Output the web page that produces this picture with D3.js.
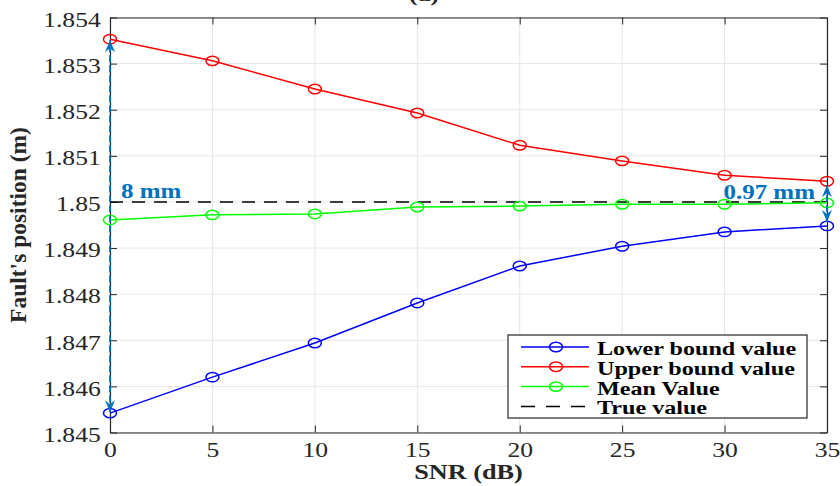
<!DOCTYPE html>
<html><head><meta charset="utf-8">
<script src="https://cdn.jsdelivr.net/npm/d3@7"></script>
<style>body{margin:0;background:#fff}svg{display:block}</style>
</head><body>
<script>
const snr = [0, 5, 10, 15, 20, 25, 30, 35];
const lowerBound = [1.84542, 1.84620, 1.84694, 1.84781, 1.84861, 1.84904, 1.84935, 1.84948];
const upperBound = [1.85353, 1.85306, 1.85245, 1.85193, 1.85123, 1.85089, 1.85058, 1.85045];
const meanValue = [1.84961, 1.84972, 1.84974, 1.84989, 1.84991, 1.84995, 1.84995, 1.84998];
const trueValue = 1.85;
const xTicks = [0, 5, 10, 15, 20, 25, 30, 35];
const yTicks = [1.845, 1.846, 1.847, 1.848, 1.849, 1.85, 1.851, 1.852, 1.853, 1.854];
const seriesNames = ["Lower bound value", "Upper bound value", "Mean Value", "True value"];
const annotations = ["8 mm", "0.97 mm"];

const W = 840, H = 486;
const m = {l: 110, r: 13, t: 17.5, b: 53.5};
const svg = d3.select("body").append("svg").attr("width", W).attr("height", H);
const x = d3.scaleLinear().domain([0, 35]).range([m.l, W - m.r]);
const y = d3.scaleLinear().domain([1.845, 1.854]).range([H - m.b, m.t]);
const serif = "Liberation Serif, Times New Roman, serif";
const axisCol = "#262626";
const annCol = "#0072BD";
const SX = 1.22;

function stext(parent, tx, ty, str, size, opts = {}) {
  const t = parent.append("text")
    .attr("transform", `translate(${tx},${ty}) scale(${opts.sx || SX},1)`)
    .style("font-family", serif).attr("font-size", size)
    .attr("font-weight", opts.bold ? "bold" : "normal")
    .attr("fill", opts.fill || axisCol)
    .attr("text-anchor", opts.anchor || "start")
    .text(str);
  return t;
}

// grid
const g = svg.append("g");
g.selectAll(".gx").data(xTicks).join("line")
  .attr("x1", d => x(d)).attr("x2", d => x(d)).attr("y1", m.t).attr("y2", H - m.b)
  .attr("stroke", "#e6e6e6").attr("stroke-width", 1);
g.selectAll(".gy").data(yTicks).join("line")
  .attr("y1", d => y(d)).attr("y2", d => y(d)).attr("x1", m.l).attr("x2", W - m.r)
  .attr("stroke", "#e6e6e6").attr("stroke-width", 1);

// axes
const fmtY = d => d3.format(".3f")(d).replace(/0+$/, "").replace(/\.$/, "");
function styleAxis(sel) {
  sel.selectAll("path").attr("stroke", axisCol).attr("stroke-width", 1.2);
  sel.selectAll("line").attr("stroke", axisCol);
  sel.selectAll("text").style("font-family", serif).attr("font-size", 21).attr("fill", axisCol);
}
svg.append("g").attr("transform", `translate(0,${H - m.b})`)
  .call(d3.axisBottom(x).tickValues(xTicks).tickSizeInner(-7).tickSizeOuter(0))
  .call(styleAxis)
  .call(a => a.selectAll("text").attr("y", 24.3).attr("dy", 0).attr("transform", `scale(${SX},1)`));
svg.append("g").attr("transform", `translate(0,${m.t})`)
  .call(d3.axisTop(x).tickValues(xTicks).tickSizeInner(-7).tickSizeOuter(0).tickFormat(""))
  .call(styleAxis);
svg.append("g").attr("transform", `translate(${m.l},0)`)
  .call(d3.axisLeft(y).tickValues(yTicks).tickSizeInner(-7).tickSizeOuter(0).tickPadding(7.6).tickFormat(fmtY))
  .call(styleAxis)
  .call(a => a.selectAll("text").attr("dy", "0.42em").attr("transform", `scale(${SX},1)`));
svg.append("g").attr("transform", `translate(${W - m.r},0)`)
  .call(d3.axisRight(y).tickValues(yTicks).tickSizeInner(-7).tickSizeOuter(0).tickFormat(""))
  .call(styleAxis);

// axis labels & title
stext(svg, (m.l + W - m.r) / 2, 479, "SNR (dB)", 21, {bold: true, anchor: "middle", sx: 1.25});
svg.append("text").attr("transform", `translate(26,${(m.t + H - m.b) / 2}) rotate(-90)`)
  .attr("text-anchor", "middle").style("font-family", serif).attr("font-weight", "bold")
  .attr("font-size", 23.5).attr("fill", axisCol).text("Fault's position (m)");
stext(svg, 424, 0.5, "(a)", 21, {bold: true, anchor: "middle", sx: 1.25});

// true value
svg.append("line").attr("x1", x(0)).attr("x2", x(35)).attr("y1", y(trueValue)).attr("y2", y(trueValue))
  .attr("stroke", "#000").attr("stroke-width", 1.5).attr("stroke-dasharray", "13,9");

// series
const series = [
  {vals: lowerBound, col: "#0000ff"},
  {vals: upperBound, col: "#ff0000"},
  {vals: meanValue, col: "#00ff00"}
];
const line = d3.line().x((d, i) => x(snr[i])).y(d => y(d));
series.forEach(s => {
  svg.append("path").datum(s.vals).attr("d", line).attr("fill", "none")
    .attr("stroke", s.col).attr("stroke-width", 1.5);
  svg.append("g").selectAll("ellipse").data(s.vals).join("ellipse")
    .attr("cx", (d, i) => x(snr[i])).attr("cy", d => y(d)).attr("rx", 6.5).attr("ry", 4.7)
    .attr("fill", "none").attr("stroke", s.col).attr("stroke-width", 1.5);
});

// annotation arrows
const defs = svg.append("defs");
defs.append("marker").attr("id", "ah").attr("viewBox", "0 0 12 10").attr("refX", 12).attr("refY", 5)
  .attr("markerWidth", 12).attr("markerHeight", 10).attr("markerUnits", "userSpaceOnUse")
  .attr("orient", "auto-start-reverse")
  .append("path").attr("d", "M0,0 L12,5 L0,10 L4,5 Z").attr("fill", annCol);
function dArrow(xv, y1v, y2v, inset) {
  svg.append("line").attr("x1", x(xv)).attr("x2", x(xv))
    .attr("y1", y(y1v) - inset).attr("y2", y(y2v) + inset)
    .attr("stroke", annCol).attr("stroke-width", 1.8).attr("stroke-dasharray", "7,3")
    .attr("marker-start", "url(#ah)").attr("marker-end", "url(#ah)");
}
dArrow(0, lowerBound[0], upperBound[0], 1);
dArrow(35, lowerBound[7], upperBound[7], 4);
stext(svg, x(0) + 11, 197.5, annotations[0], 20, {bold: true, fill: annCol, sx: 1.25});
stext(svg, x(35) - 12, 199, annotations[1], 20, {bold: true, fill: annCol, anchor: "end", sx: 1.25});

// legend
const lg = svg.append("g").attr("transform", "translate(508,335)");
lg.append("rect").attr("width", 299).attr("height", 83).attr("fill", "#fff")
  .attr("stroke", axisCol).attr("stroke-width", 1.2);
const legCols = ["#0000ff", "#ff0000", "#00ff00", "#000"];
seriesNames.forEach((n, i) => {
  const yy = 12 + i * 19.8;
  const ln = lg.append("line").attr("x1", 13).attr("x2", 81).attr("y1", yy).attr("y2", yy)
    .attr("stroke", legCols[i]).attr("stroke-width", 1.5);
  if (i === 3) ln.attr("stroke-dasharray", "14,11");
  else lg.append("ellipse").attr("cx", 48).attr("cy", yy).attr("rx", 6.5).attr("ry", 4.7).attr("fill", "none")
    .attr("stroke", legCols[i]).attr("stroke-width", 1.5);
  stext(lg, 89, yy + 8, n, 19, {bold: true, fill: "#000", sx: 1.27});
});
</script>
</body></html>
